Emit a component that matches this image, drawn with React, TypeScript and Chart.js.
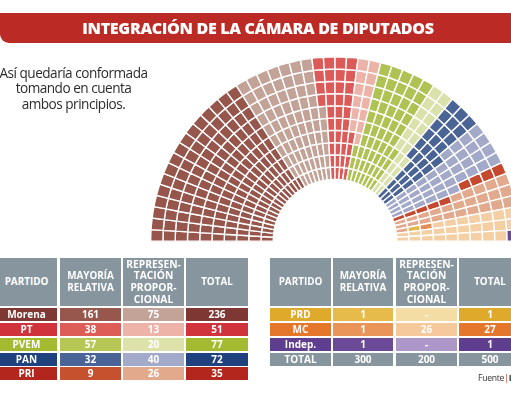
import React, { useEffect, useRef } from "react";
import { Chart, registerables } from "chart.js";

Chart.register(...registerables);

const parties = ["Morena", "PT", "PVEM", "PAN", "PRI", "PRD", "MC", "Indep."];
const relativa = [161, 38, 57, 32, 9, 1, 1, 1];
const proporcional = [75, 13, 20, 40, 26, 0, 26, 0];
const totals = [236, 51, 77, 72, 35, 1, 27, 1];
const grandTotals = [300, 200, 500];

const darkSeat = ["#96564c", "#dc5a58", "#afc254", "#4a6496", "#c6482e", "#e4b84a", "#e68c56", "#6a4a97"];
const lightSeat = ["#c3a397", "#edb2a8", "#dbe1ab", "#a3a9c8", "#e3a98d", "#f4dca5", "#f5cfa4", "#ad97c8"];
const totalCell = ["#7f3733", "#d1333c", "#a4ba30", "#1f417e", "#b3261e", "#dfa92c", "#e5772c", "#5f3e8f"];
const relCell = ["#98574d", "#dd5e59", "#b7c755", "#4b6497", "#c6512f", "#e6bb4c", "#e9955a", "#6a4a97"];
const propCell = ["#c3a397", "#edb2a8", "#dde2ab", "#a3a9c8", "#e3a98d", "#f4dca5", "#f5c99c", "#ad97c8"];
const headerColor = "#87959f";

const rowCount = 10;
const seatsPerRow = 50;
const flippedColumns = [28];

function seatColors(): string[] {
  const out: string[] = [];
  parties.forEach((_, i) => {
    for (let n = 0; n < relativa[i]; n++) out.push(darkSeat[i]);
    for (let n = 0; n < proporcional[i]; n++) out.push(lightSeat[i]);
  });
  return out;
}

function ringDatasets() {
  const seats = seatColors();
  const sets = [];
  // dataset 0 is the outer ring; seats fill each column from the inner ring out
  for (let ring = rowCount - 1; ring >= 0; ring--) {
    const colors: string[] = [];
    const data: number[] = [];
    for (let col = 0; col < seatsPerRow; col++) {
      const r = flippedColumns.includes(col) ? rowCount - 1 - ring : ring;
      colors.push(seats[col * rowCount + r]);
      data.push(1);
    }
    sets.push({ data, backgroundColor: colors, borderColor: "#ffffff", borderWidth: 1.4 });
  }
  return sets;
}

const FONT = "'Open Sans', sans-serif";

type Box = { x: number; y: number; w: number; h: number };

function Cell({ box, bg, children, size = 10 }: { box: Box; bg: string; children: React.ReactNode; size?: number }) {
  return (
    <div
      style={{
        position: "absolute",
        left: box.x,
        top: box.y,
        width: box.w,
        height: box.h,
        background: bg,
        color: "#fff",
        font: `700 ${size}px/11.7px ${FONT}`,
        display: "flex",
        alignItems: "center",
        justifyContent: "center",
        textAlign: "center",
        whiteSpace: "pre-line",
      }}
    >
      {children}
    </div>
  );
}

const leftCols = [[-4, 61], [60, 61], [123, 61], [186, 62]];
const rightCols = [[270, 61], [333, 60], [396, 61], [459, 62]];
const headTop = 258;
const headH = 48;
const rowTops = [308, 323, 338, 353, 367];
const rowH = 13;
const headers = ["PARTIDO", "MAYORÍA\nRELATIVA", "REPRESEN-\nTACIÓN\nPROPOR-\nCIONAL", "TOTAL"];

function Table({ cols, rows, footer }: { cols: number[][]; rows: number[]; footer?: boolean }) {
  return (
    <>
      {headers.map((h, c) => (
        <Cell key={h} box={{ x: cols[c][0], y: headTop, w: cols[c][1], h: headH }} bg={headerColor} size={c === 2 ? 10.3 : 9.9}>
          {h}
        </Cell>
      ))}
      {rows.map((p, r) => {
        const y = rowTops[r];
        const vals = [
          parties[p],
          String(relativa[p]),
          proporcional[p] === 0 ? "-" : String(proporcional[p]),
          String(totals[p]),
        ];
        const bgs = [totalCell[p], relCell[p], propCell[p], totalCell[p]];
        return vals.map((v, c) => (
          <Cell key={p + "-" + c} box={{ x: cols[c][0], y, w: cols[c][1], h: rowH }} bg={bgs[c]}>
            {v}
          </Cell>
        ));
      })}
      {footer &&
        ["TOTAL", ...grandTotals.map(String)].map((v, c) => (
          <Cell key={"t" + c} box={{ x: cols[c][0], y: rowTops[rows.length], w: cols[c][1], h: rowH }} bg={headerColor}>
            {v}
          </Cell>
        ))}
    </>
  );
}

export default function App() {
  const ref = useRef<HTMLCanvasElement>(null);
  useEffect(() => {
    const chart = new Chart(ref.current!, {
      type: "doughnut",
      data: { labels: Array.from({ length: seatsPerRow }, (_, i) => String(i + 1)), datasets: ringDatasets() as any },
      options: {
        animation: false,
        responsive: false,
        rotation: -90,
        circumference: 180,
        cutout: "33.5%",
        layout: { padding: 0 },
        plugins: { legend: { display: false }, tooltip: { enabled: false } },
      },
    });
    return () => chart.destroy();
  }, []);

  return (
    <div
      style={{
        position: "absolute",
        left: 0,
        top: 0,
        width: 511,
        height: 400,
        overflow: "hidden",
        background: "#fff",
      }}
    >
      <div
        style={{
          position: "absolute",
          left: 0,
          top: 0,
          width: 511,
          height: 400,
          overflow: "hidden",
          filter: "blur(0.5px)",
        }}
      >
        <div
          style={{
            position: "absolute",
            left: 0,
            top: 13,
            width: 520,
            height: 30,
            background: "#bc2a26",
            borderBottomLeftRadius: 9,
          }}
        />
        <div
          style={{
            position: "absolute",
            left: 0,
            top: 13,
            width: 516,
            height: 30,
            textAlign: "center",
            color: "#fff",
            font: `800 16.1px/30px ${FONT}`,
            letterSpacing: -0.35,
            whiteSpace: "nowrap",
          }}
        >
          INTEGRACIÓN DE LA CÁMARA DE DIPUTADOS
        </div>
        <div
          style={{
            position: "absolute",
            left: -10,
            top: 65,
            width: 167,
            textAlign: "center",
            color: "#2c2c2c",
            font: `400 13.6px/15.4px ${FONT}`,
            letterSpacing: -0.5,
            whiteSpace: "pre-line",
          }}
        >
          {"Así quedaría conformada\ntomando en cuenta\nambos principios."}
        </div>
        <canvas ref={ref} width={370} height={186} style={{ position: "absolute", left: 150, top: 56, width: 370, height: 186 }} />
        <Table cols={leftCols} rows={[0, 1, 2, 3, 4]} />
        <Table cols={rightCols} rows={[5, 6, 7]} footer />
        <div
          style={{
            position: "absolute",
            left: 478,
            top: 372,
            color: "#333",
            font: `400 8.6px/12px ${FONT}`,
            letterSpacing: -0.25,
            whiteSpace: "nowrap",
          }}
        >
          Fuente<span style={{ color: "#c0392b" }}>|</span>
          <b>INE</b>
        </div>
      </div>
    </div>
  );
}
